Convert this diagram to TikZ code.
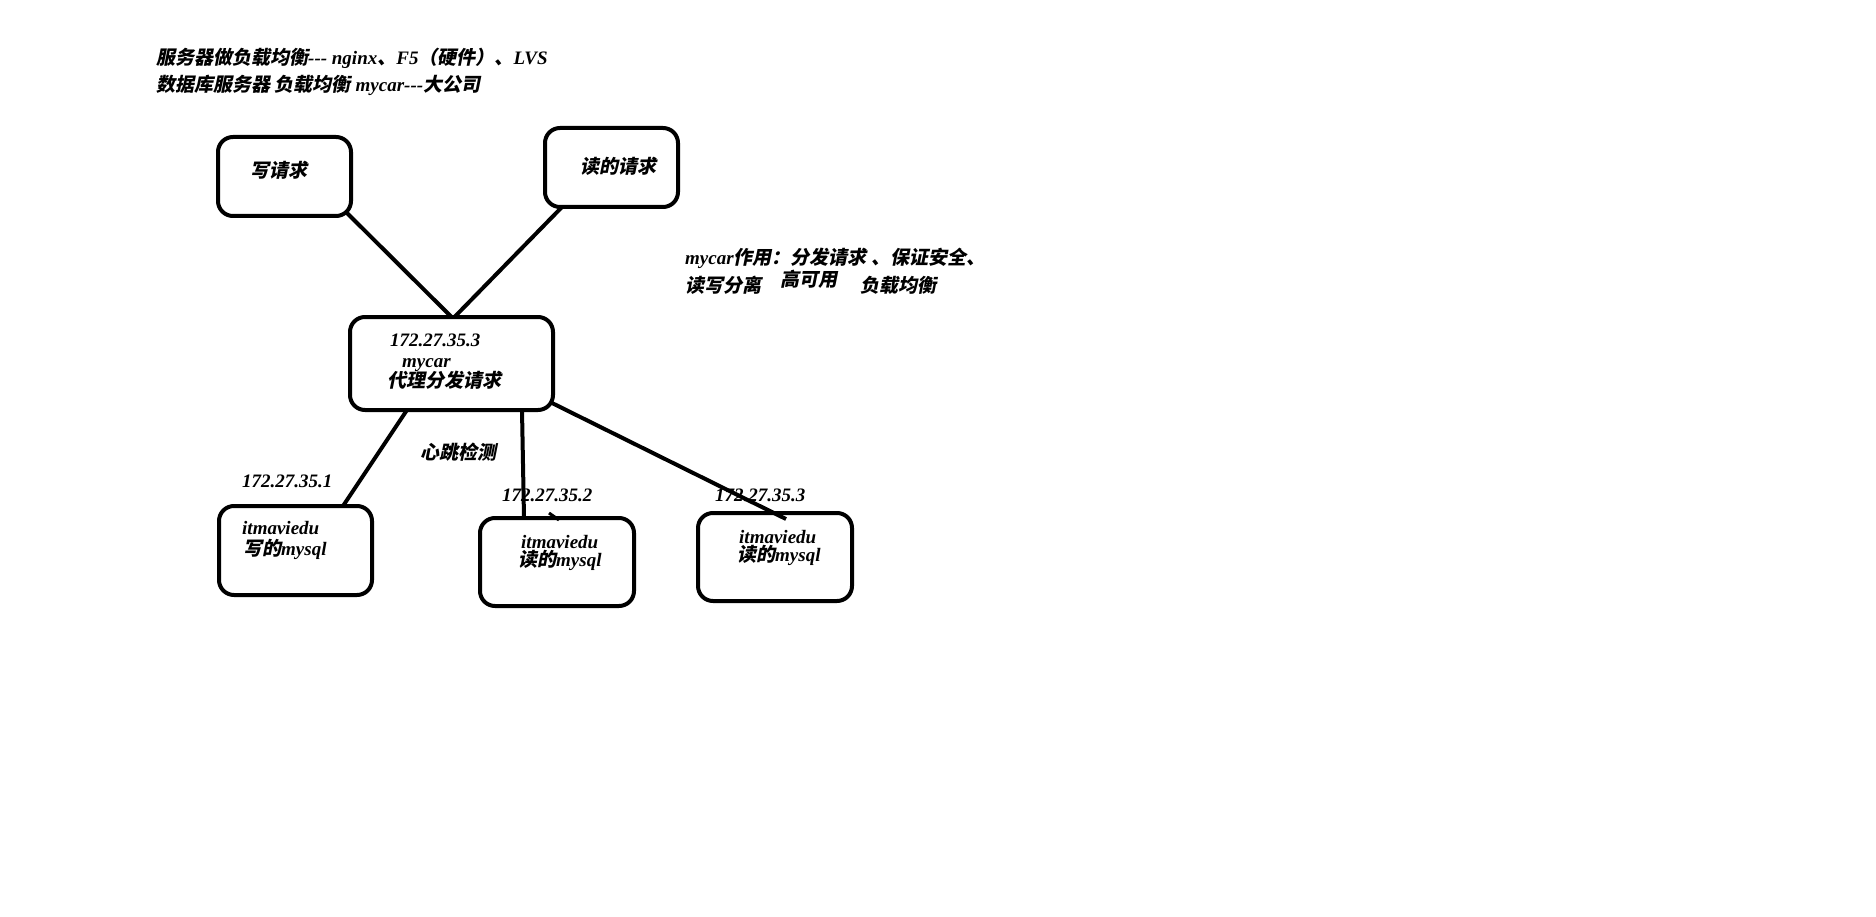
\documentclass[tikz,border=0pt]{standalone}
\usepackage{fontspec}
\setmainfont{Liberation Serif}
\newfontfamily\cjk[FakeSlant=0.2]{Noto Sans CJK SC}
\usetikzlibrary{calc}
\newcommand\zh[1]{{\cjk\bfseries #1}}
\newcommand\ddd{{-}{-}{-}}
\begin{document}
\begin{tikzpicture}[x=1pt,y=-1pt,
  box/.style={draw, line width=4pt, rounded corners=15pt, inner sep=0pt, outer sep=0pt},
  txt/.style={anchor=base west, inner sep=0pt, font=\fontsize{19}{23}\selectfont\bfseries\itshape},
  link/.style={line width=4pt}]
\fill[white] (0,0) rectangle (1876,917);
\useasboundingbox (0,0) rectangle (1876,917);
% boxes
\node[box, minimum width=133pt, minimum height=79pt] (wreq) at (284.5,176.5) {};
\node[box, minimum width=133pt, minimum height=79pt] (rreq) at (611.5,167.5) {};
\node[box, minimum width=203pt, minimum height=93pt] (mycar) at (451.5,363.5) {};
\node[box, minimum width=153pt, minimum height=89pt] (w1) at (295.5,550.5) {};
\node[box, minimum width=154pt, minimum height=88pt] (r1) at (557,562) {};
\node[box, minimum width=154pt, minimum height=88pt] (r2) at (775,557) {};
% texts
\node[txt] (t1) at (156,65) {\zh{服务器做负载均衡}\ddd{} nginx\zh{、}F5\zh{（硬件）、}LVS};
\node[txt] (t2) at (156,92) {\zh{数据库服务器} \zh{负载均衡} mycar\ddd\zh{大公司}};
\node[txt] (wreqt) at (250,178) {\zh{写请求}};
\node[txt] (rreqt) at (580,174) {\zh{读的请求}};
\node[txt] (m1) at (390,346) {172.27.35.3};
\node[txt] (m2) at (402,367) {mycar};
\node[txt] (m3) at (387,387) {\zh{代理分发请求}};
\node[txt] (hb) at (420,459) {\zh{心跳检测}};
\node[txt] (ip1) at (242,487) {172.27.35.1};
\node[txt] (ip2) at (502,501) {172.27.35.2};
\node[txt] (ip3) at (715,501) {172.27.35.3};
\node[txt] (w1a) at (242,534) {itmaviedu};
\node[txt] (w1b) at (243,555) {\zh{写的}mysql};
\node[txt] (r1a) at (521,548) {itmaviedu};
\node[txt] (r1b) at (518,566) {\zh{读的}mysql};
\node[txt] (r2a) at (739,543) {itmaviedu};
\node[txt] (r2b) at (737,561) {\zh{读的}mysql};
\node[txt] (f1) at (685,265) {mycar\zh{作用：分发请求 、保证安全、}};
\node[txt] (f2) at (685,292) {\zh{读写分离}};
\node[txt] (f3) at (780,287) {\zh{高可用}};
\node[txt] (f4) at (860,292) {\zh{负载均衡}};
% connectors
\draw[link] ($(wreq.south east)+(-5,-4)$) -- (mycar.north);
\draw[link] ($(rreq.south west)+(17,0)$) -- ($(mycar.north)+(3,0)$);
\draw[link] ($(mycar.south west)+(57,0)$) -- ($(w1.north west)+(124,0)$);
\draw[link] ($(mycar.south west)+(172,0)$) -- ($(r1.north west)+(44,0)$);
\draw[link] ($(mycar.south east)+(-1,-7)$) -- ($(r2.north west)+(88,6)$);
\draw[line width=3pt] ($(r1.north west)+(69,-5)$) -- ($(r1.north west)+(79,2)$);
\end{tikzpicture}
\end{document}
